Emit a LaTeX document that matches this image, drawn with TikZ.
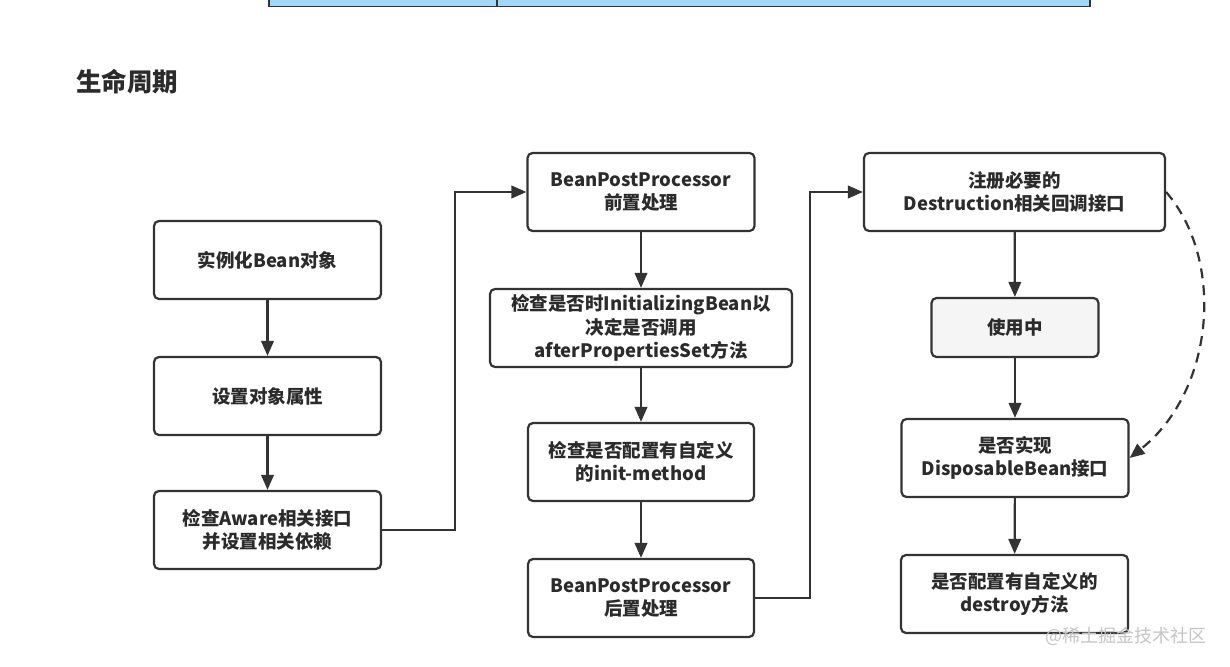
\documentclass[tikz,border=0pt]{standalone}
\usepackage{fontspec}
\newfontfamily\cjk{Noto Sans CJK SC}
\usetikzlibrary{arrows.meta}
\definecolor{ln}{HTML}{333333}
\definecolor{txt}{HTML}{2B2B2B}
\definecolor{barblue}{HTML}{A3D6FB}
\definecolor{usefill}{HTML}{F5F5F5}
\definecolor{wm}{HTML}{C4C4C4}
\begin{document}
\begin{tikzpicture}[x=1pt,y=-1pt,
  box/.style={draw=ln, line width=2.2pt, rounded corners=5pt, fill=white, align=center,
    font=\cjk\bfseries\fontsize{18.5}{23.5}\selectfont, text=txt, inner sep=0pt,
    minimum width=227pt, minimum height=78pt},
  arr/.style={draw=ln, line width=2.2pt, -{Triangle[length=15pt,width=12.5pt]}},
  darr/.style={arr, dash pattern=on 10pt off 7pt}]
\useasboundingbox (0,0) rectangle (1230,666);
% top cropped table bar
\draw[fill=barblue, draw=ln, line width=1.6pt] (269,-5) rectangle (1090,6.5);
\draw[ln, line width=1.6pt] (497,-5) -- (497,6.5);
% title
\node[anchor=west, font=\cjk\bfseries\fontsize{25.5}{25.5}\selectfont, text=txt, inner sep=0pt] (title) at (76,82) {生命周期};
% column 1
\node[box] (b1) at (267.5,260) {实例化Bean对象};
\node[box] (b2) at (267.5,396) {设置对象属性};
\node[box] (b3) at (267.5,530) {检查Aware相关接口\\并设置相关依赖};
% column 2
\node[box] (b4) at (641,192) {BeanPostProcessor\\前置处理};
\node[box, minimum width=302pt] (b5) at (641,328) {检查是否时InitializingBean以\\决定是否调用\\afterPropertiesSet方法};
\node[box, minimum width=226pt] (b6) at (641,462) {检查是否配置有自定义\\的init-method};
\node[box, minimum width=226pt] (b7) at (641,598) {BeanPostProcessor\\后置处理};
% column 3
\node[box, minimum width=301pt] (b8) at (1014.5,192) {注册必要的\\Destruction相关回调接口};
\node[box, minimum width=167pt, minimum height=59pt, fill=usefill] (b9) at (1015,327.5) {使用中};
\node[box] (b10) at (1015,458) {是否实现\\DisposableBean接口};
\node[box] (b11) at (1014.5,594) {是否配置有自定义的\\destroy方法};
% watermark
\node[anchor=west, font=\cjk\fontsize{18}{18}\selectfont, text=wm, inner sep=0pt] (wmk) at (1045,636) {@稀土掘金技术社区};
% connectors
\coordinate (j1) at (455,0);
\coordinate (j2) at (810,0);
\draw[arr] (b1) -- (b2);
\draw[arr] (b2) -- (b3);
\draw[arr] (b3.east) -- (b3.east -| j1) |- (b4.west);
\draw[arr] (b4) -- (b5);
\draw[arr] (b5) -- (b6);
\draw[arr] (b6) -- (b7);
\draw[arr] (b7.east) -- (b7.east -| j2) |- (b8.west);
\draw[arr] (b8) -- (b9);
\draw[arr] (b9) -- (b10);
\draw[arr] (b10) -- (b11);
\draw[darr] (b8.east) .. controls (1225,260) and (1215,390) .. (b10.east);
\end{tikzpicture}
\end{document}
